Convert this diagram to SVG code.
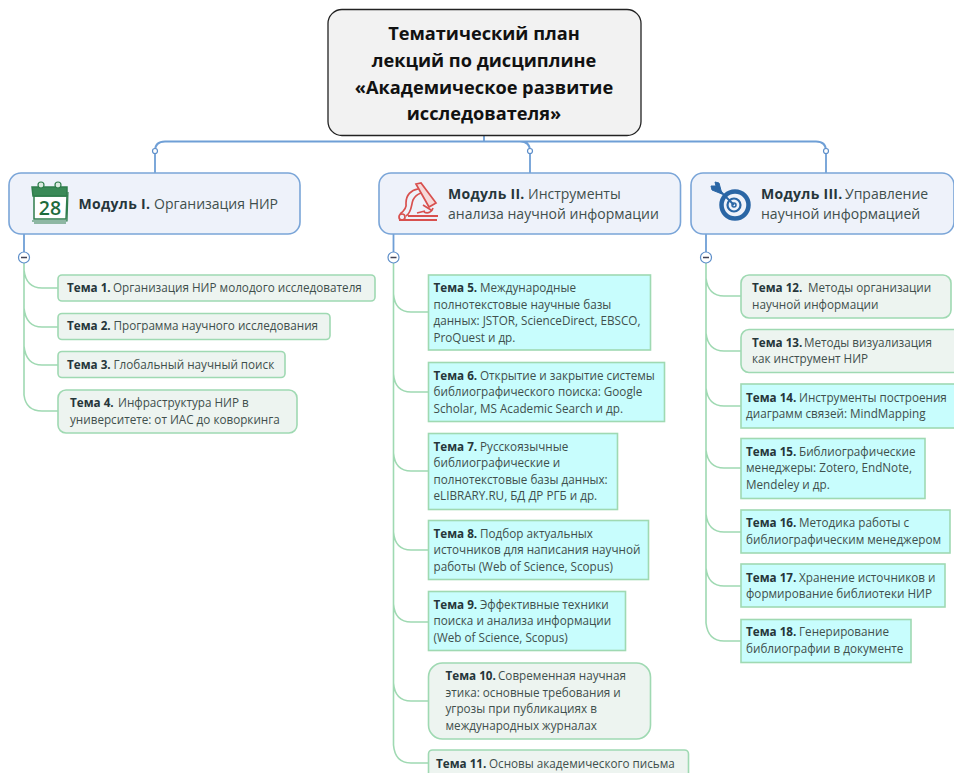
<svg xmlns="http://www.w3.org/2000/svg" width="954" height="773" viewBox="0 0 954 773">
<style>
text{font-family:"Open Sans","Noto Sans","Liberation Sans",sans-serif;fill:#3f4f4c}
.t{font-size:11.7px}
.m{font-size:14px}
.r{font-size:18.2px;font-weight:700;fill:#111;text-anchor:middle}
.b{font-weight:700;fill:#26363a}
.m .b{letter-spacing:.3px}
.mod{fill:#eef2fa;stroke:#7aa5d8;stroke-width:1.600}
.g{fill:#edf4f0;stroke:#9fd9b2;stroke-width:1.600}
.c{fill:#c8fdfd;stroke:#9fd9b2;stroke-width:1.600}
.bl{fill:none;stroke:#6f9fd6;stroke-width:1.800}
.gl{fill:none;stroke:#9fd9b2;stroke-width:1.600}
.h{fill:#fff;stroke:#5e8fca;stroke-width:1.200}
</style>
<g id="connectors">
<path class="bl" d="M484 135V141.500M155 173V151M155 151Q155 141.500 165 141.500H816Q826 141.500 826 151V173M530 173V151Q530 141.500 520 141.500"/>
<path class="bl" d="M24 234V252M393.500 234V252M706 234V252"/>
<path class="gl" d="M24 263V395Q26 411 42 411H58M24 270Q26 288 42 288H58M24 308Q26 327 42 327H58M24 346Q26 365 42 365H58"/>
<path class="gl" d="M393.500 263V745Q395 763 411 763H428M393.500 294Q395 312 411 312H428M393.500 374Q395 392 411 392H428M393.500 453Q395 471 411 471H428M393.500 532Q395 550 411 550H428M393.500 604Q395 622 411 622H428M393.500 683Q395 701 411 701H428"/>
<path class="gl" d="M706 263V623Q708 641 724 641H741M706 278Q708 296 724 296H741M706 333Q708 351 724 351H741M706 388Q708 406 724 406H741M706 450Q708 468 724 468H741M706 514Q708 532 724 532H741M706 568Q708 586 724 586H741"/>
<circle class="h" cx="155" cy="151" r="2.500"/><circle class="h" cx="530" cy="151" r="2.500"/><circle class="h" cx="826" cy="151" r="2.500"/>
<g id="collapse"><circle class="h" cx="24" cy="257.500" r="5.500"/><circle class="h" cx="393.500" cy="257.500" r="5.500"/><circle class="h" cx="706" cy="257.500" r="5.500"/>
<path d="M21 257.500H27M390.500 257.500H396.500M703 257.500H709" stroke="#445" stroke-width="1.500"/></g>
</g>
<g id="root"><rect x="328" y="9.500" width="313" height="126" rx="14" fill="#f2f2f2" stroke="#222" stroke-width="1.300"/>
<text class="r" x="484" y="39.500">Тематический план</text><text class="r" x="484" y="66.500">лекций по дисциплине</text><text class="r" x="484" y="93.500">«Академическое развитие</text><text class="r" x="484" y="120">исследователя»</text></g>
<g id="m1"><rect class="mod" x="9" y="173" width="291" height="61" rx="12"/>
<g stroke="#2f7d4c" fill="none" stroke-width="1.500"><path d="M34 196H67L66 219H34Z" fill="#fff"/><path d="M32 187H67V196H33Z" fill="#3a8a57"/><path d="M32 221H67L68 192M34 223H66" stroke-width="1.200"/><circle cx="41" cy="185" r="3" fill="#dcebe0" stroke-width="1.200"/><circle cx="58" cy="185" r="3" fill="#dcebe0" stroke-width="1.200"/></g>
<text x="50" y="214.500" text-anchor="middle" style="font-size:19.500px;font-weight:600;fill:#1e6b3c">28</text>
<text class="m" x="78.500" y="209"><tspan class="b">Модуль I.</tspan> <tspan x="154">Организация НИР</tspan></text></g>
<g id="m2"><rect class="mod" x="379" y="173" width="301.500" height="61" rx="12"/>
<g fill="none" stroke="#d8504e" stroke-width="1.700"><path d="M399 220H437M408 216H438" stroke-width="2.200"/><circle cx="402" cy="217" r="3"/><path d="M400 214C404 211 407 208 406 203C406 195 411 190 418 189M406 216C412 212 411 205 413 200C415 196 418 194 421 193"/><path d="M416 184L421 183L436 203L429 207Z" fill="#f6d9d9"/><path d="M423 205L431 210M424 212C428 214 432 212 433 208M417 213L425 211"/></g>
<text class="m" x="448" y="199"><tspan class="b">Модуль II.</tspan> <tspan x="528">Инструменты</tspan></text><text class="m" x="448" y="219">анализа научной информации</text></g>
<g id="m3"><rect class="mod" x="691" y="173" width="263" height="61" rx="12"/>
<g fill="none" stroke="#2a66a5"><circle cx="735" cy="205" r="13.500" stroke-width="4.500"/><circle cx="734" cy="205" r="6.500" stroke-width="2.200"/><circle cx="734" cy="205" r="2" stroke-width="1.500"/><path d="M734 205L719 190" stroke-width="2"/><path d="M722 194L712 190L711 186L716 186L715 182L719 183ZM717 186L722 193" fill="#2a66a5" stroke-width="1"/></g>
<text class="m" x="761" y="199"><tspan class="b">Модуль III.</tspan> <tspan x="845">Управление</tspan></text><text class="m" x="761" y="219">научной информацией</text></g>
<g id="t1"><rect class="g" x="58" y="275" width="317" height="26" rx="4"/><text class="t" x="67" y="292"><tspan class="b">Тема 1.</tspan> <tspan x="113">Организация НИР молодого исследователя</tspan></text></g>
<g id="t2"><rect class="g" x="58" y="313.500" width="272" height="26" rx="4"/><text class="t" x="67" y="330"><tspan class="b">Тема 2.</tspan> <tspan x="113.500">Программа научного исследования</tspan></text></g>
<g id="t3"><rect class="g" x="58" y="351.500" width="227" height="26" rx="4"/><text class="t" x="67" y="369"><tspan class="b">Тема 3.</tspan> <tspan x="113.500">Глобальный научный поиск</tspan></text></g>
<g id="t4"><rect class="g" x="58" y="390" width="239" height="43" rx="8"/><text class="t" x="70" y="407"><tspan class="b">Тема 4.</tspan> <tspan x="118">Инфраструктура НИР в</tspan></text><text class="t" x="70" y="424">университете: от ИАС до коворкинга</text></g>
<g id="t5"><rect class="c" x="428.500" y="275" width="222" height="75"/><text class="t" x="433.500" y="292"><tspan class="b">Тема 5.</tspan> <tspan x="480">Международные</tspan></text><text class="t" x="433.500" y="309">полнотекстовые научные базы</text><text class="t" x="433.500" y="325">данных: JSTOR, ScienceDirect, EBSCO,</text><text class="t" x="433.500" y="342">ProQuest и др.</text></g>
<g id="t6"><rect class="c" x="428.500" y="362.500" width="236" height="59"/><text class="t" x="433.500" y="380"><tspan class="b">Тема 6.</tspan> <tspan x="480">Открытие и закрытие системы</tspan></text><text class="t" x="433.500" y="396">библиографического поиска: Google</text><text class="t" x="433.500" y="413">Scholar, MS Academic Search и др.</text></g>
<g id="t7"><rect class="c" x="428.500" y="433.500" width="189" height="76"/><text class="t" x="433.500" y="451"><tspan class="b">Тема 7.</tspan> <tspan x="480">Русскоязычные</tspan></text><text class="t" x="433.500" y="467">библиографические и</text><text class="t" x="433.500" y="484">полнотекстовые базы данных:</text><text class="t" x="433.500" y="500">eLIBRARY.RU, БД ДР РГБ и др.</text></g>
<g id="t8"><rect class="c" x="428.500" y="520.500" width="220" height="59"/><text class="t" x="433.500" y="538"><tspan class="b">Тема 8.</tspan> <tspan x="480">Подбор актуальных</tspan></text><text class="t" x="433.500" y="554">источников для написания научной</text><text class="t" x="433.500" y="571">работы (Web of Science, Scopus)</text></g>
<g id="t9"><rect class="c" x="428.500" y="591.500" width="197" height="59"/><text class="t" x="433.500" y="609"><tspan class="b">Тема 9.</tspan> <tspan x="480">Эффективные техники</tspan></text><text class="t" x="433.500" y="625">поиска и анализа информации</text><text class="t" x="433.500" y="642">(Web of Science, Scopus)</text></g>
<g id="t10"><rect class="g" x="428.500" y="663" width="222" height="76" rx="14"/><text class="t" x="445.500" y="680"><tspan class="b">Тема 10.</tspan> <tspan x="498">Современная научная</tspan></text><text class="t" x="445.500" y="697">этика: основные требования и</text><text class="t" x="445.500" y="713">угрозы при публикациях в</text><text class="t" x="445.500" y="730">международных журналах</text></g>
<g id="t11"><rect class="g" x="428.500" y="750" width="260" height="40" rx="4"/><text class="t" x="436" y="768"><tspan class="b">Тема 11.</tspan> <tspan x="489">Основы академического письма</tspan></text></g>
<g id="t12"><rect class="g" x="741" y="275" width="210" height="43" rx="8"/><text class="t" x="752" y="292"><tspan class="b">Тема 12.</tspan> <tspan x="808">Методы организации</tspan></text><text class="t" x="752" y="309">научной информации</text></g>
<g id="t13"><rect class="g" x="741" y="329.500" width="220" height="43" rx="8"/><text class="t" x="752" y="347"><tspan class="b">Тема 13.</tspan> <tspan x="804">Методы визуализация</tspan></text><text class="t" x="752" y="363">как инструмент НИР</text></g>
<g id="t14"><rect class="c" x="741" y="384" width="220" height="44"/><text class="t" x="746" y="402"><tspan class="b">Тема 14.</tspan> <tspan x="799">Инструменты построения</tspan></text><text class="t" x="746" y="418">диаграмм связей: MindMapping</text></g>
<g id="t15"><rect class="c" x="741" y="438.500" width="184" height="60"/><text class="t" x="746" y="456"><tspan class="b">Тема 15.</tspan> <tspan x="799">Библиографические</tspan></text><text class="t" x="746" y="472">менеджеры: Zotero, EndNote,</text><text class="t" x="746" y="489">Mendeley и др.</text></g>
<g id="t16"><rect class="c" x="741" y="510" width="209" height="43"/><text class="t" x="746" y="527"><tspan class="b">Тема 16.</tspan> <tspan x="799">Методика работы с</tspan></text><text class="t" x="746" y="544">библиографическим менеджером</text></g>
<g id="t17"><rect class="c" x="741" y="564" width="204" height="43"/><text class="t" x="746" y="582"><tspan class="b">Тема 17.</tspan> <tspan x="799">Хранение источников и</tspan></text><text class="t" x="746" y="598">формирование библиотеки НИР</text></g>
<g id="t18"><rect class="c" x="741" y="619.500" width="170" height="43"/><text class="t" x="746" y="636"><tspan class="b">Тема 18.</tspan> <tspan x="799">Генерирование</tspan></text><text class="t" x="746" y="653">библиографии в документе</text></g>
</svg>
